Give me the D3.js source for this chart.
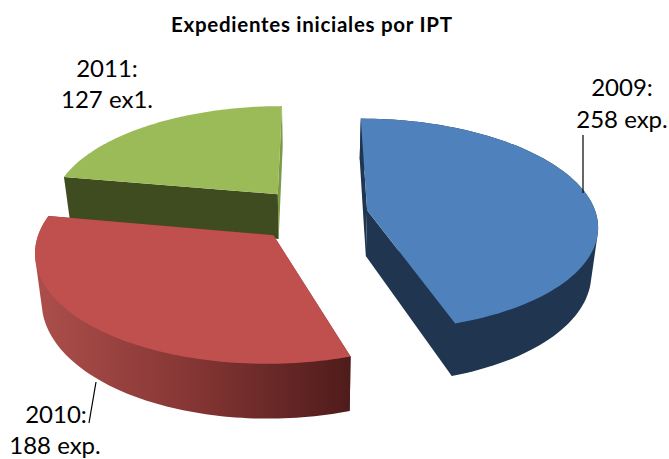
<!DOCTYPE html>
<html><head><meta charset="utf-8">
<script src="https://cdn.jsdelivr.net/npm/d3@7"></script>
<style>html,body{margin:0;padding:0;background:#fff}svg{display:block}text{font-family:Lato,"Open Sans",sans-serif;fill:#000}</style>
</head><body><svg id="c" width="669" height="459"></svg>
<script>
const categories = ["2009", "2010", "2011"];
const values = [258, 188, 127];
const labelLines = [["2009:", "258 exp."], ["2010:", "188 exp."], ["2011:", "127 ex1."]];
const title = "Expedientes iniciales por IPT";
const topColors = ["#4f81bd", "#c0504d", "#9bbb59"];
const sideColors = ["#1f3550", "#7a302e", "#3f4c20"];
const explodeBy = [54, 60, 58];

const svg = d3.select("#c");
const cx = 314, cy = 214, R = 229, K = 0.458, q = 0.000589, depth = 46, zShrink = 0.976;

function project(u, v, z) {
  const s = 1 / (1 - q * v);
  const zs = 1 - (1 - zShrink) * z;
  return [cx + u * s * zs, cy + K * v * s + depth * s * z];
}
const pieGen = d3.pie().sort(null).value(d => d);
const arcs = pieGen(values);
function rim(d, i, z) {
  const mid = (d.startAngle + d.endAngle) / 2;
  const ou = explodeBy[i] * Math.sin(mid), ov = -explodeBy[i] * Math.cos(mid);
  const scaleA = d3.scaleLinear().domain([0, 1]).range([d.startAngle, d.endAngle]);
  return {
    apex: project(ou, ov, z),
    arc: d3.range(0, 1.0001, 1 / 90).map(t => {
      const a = scaleA(t);
      return project(ou + R * Math.sin(a), ov - R * Math.cos(a), z);
    })
  };
}
const line = d3.line();
const defs = svg.append("defs");
const gr = defs.append("linearGradient").attr("id", "redWall").attr("gradientUnits", "userSpaceOnUse")
  .attr("x1", 34).attr("x2", 350).attr("y1", 0).attr("y2", 0);
gr.append("stop").attr("offset", 0).attr("stop-color", "#ad4f4c");
gr.append("stop").attr("offset", 0.5).attr("stop-color", "#853634");
gr.append("stop").attr("offset", 1).attr("stop-color", "#4f1c1b");

[2, 1, 0].forEach(i => {
  const d = arcs[i], t = rim(d, i, 0), b = rim(d, i, 1);
  const g = svg.append("g");
  const side = sideColors[i];
  const first = t.arc[0], last = t.arc[t.arc.length - 1];
  const bf = b.arc[0], bl = b.arc[b.arc.length - 1];
  const sideEnd = i === 2 ? "#7a9a45" : side;
  g.append("path").attr("d", line([t.apex, last, bl, b.apex]) + "Z").attr("fill", sideEnd);
  g.append("path").attr("d", line([t.apex, first, bf, b.apex]) + "Z").attr("fill", side);
  if (i !== 2) {
    g.append("path").attr("d", line(d3.polygonHull(t.arc.concat(b.arc))) + "Z")
      .attr("fill", i === 1 ? "url(#redWall)" : side);
  }
  g.append("path").attr("d", line([t.apex].concat(t.arc)) + "Z").attr("fill", topColors[i]);
});

svg.append("text").attr("x", 311.5).attr("y", 32).attr("text-anchor", "middle")
  .attr("font-size", 20.5).attr("font-weight", 700).attr("textLength", 281).attr("lengthAdjust", "spacing").text(title);

const labelPos = [[[622, 96], [622, 128]], [[56, 423], [55, 454]], [[107, 77], [107, 108]]];
labelLines.forEach((ls, i) => {
  ls.forEach((l, j) => svg.append("text").attr("x", labelPos[i][j][0]).attr("y", labelPos[i][j][1])
    .attr("text-anchor", "middle").attr("font-size", 24).text(l));
});
const leaders = [[[583, 135], [583, 193]], [[89, 423], [96, 382]]];
leaders.forEach(l => svg.append("path").attr("d", line(l)).attr("stroke", "#000").attr("stroke-width", 1.2).attr("fill", "none"));
</script></body></html>
